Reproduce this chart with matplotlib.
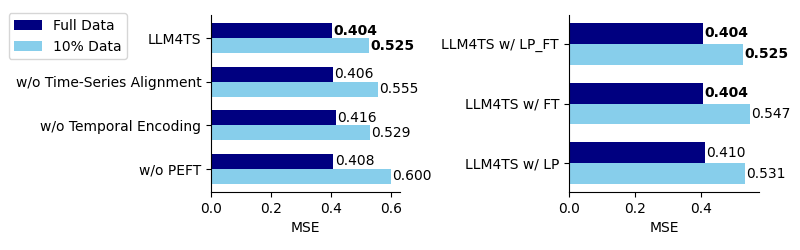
import matplotlib
matplotlib.use("Agg")
import matplotlib.pyplot as plt
import numpy as np

left_cats = ["LLM4TS", "w/o Time-Series Alignment", "w/o Temporal Encoding", "w/o PEFT"]
left_full = [0.404, 0.406, 0.416, 0.408]
left_ten = [0.525, 0.555, 0.529, 0.600]
left_full_bold = [True, False, False, False]
left_ten_bold = [True, False, False, False]

right_cats = ["LLM4TS w/ LP_FT", "LLM4TS w/ FT", "LLM4TS w/ LP"]
right_full = [0.404, 0.404, 0.410]
right_ten = [0.525, 0.547, 0.531]
right_full_bold = [True, True, False]
right_ten_bold = [True, False, False]

c_full = "#000080"
c_ten = "#87CEEB"
h = 0.35

fig = plt.figure(figsize=(8, 2.5), dpi=100)
ax1 = fig.add_axes([0.264, 0.232, 0.236, 0.708])
ax2 = fig.add_axes([0.711, 0.232, 0.238, 0.708])

def draw(ax, cats, full, ten, fb, tb):
    y = np.arange(len(cats))
    b1 = ax.barh(y - h / 2, full, height=h, color=c_full, label="Full Data")
    b2 = ax.barh(y + h / 2, ten, height=h, color=c_ten, label="10% Data")
    for bars, vals, bolds in ((b1, full, fb), (b2, ten, tb)):
        texts = ax.bar_label(bars, labels=[f"{v:.3f}" for v in vals], padding=1, fontsize=10)
        for t, b in zip(texts, bolds):
            if b:
                t.set_fontweight("bold")
    ax.set_yticks(y)
    ax.set_yticklabels(cats, fontsize=10)
    ax.invert_yaxis()
    ax.set_xlabel("MSE", fontsize=10)
    ax.spines["top"].set_visible(False)
    ax.spines["right"].set_visible(False)
    ax.tick_params(labelsize=10)
    return b1, b2

b1, b2 = draw(ax1, left_cats, left_full, left_ten, left_full_bold, left_ten_bold)
draw(ax2, right_cats, right_full, right_ten, right_full_bold, right_ten_bold)
ax1.set_xticks([0.0, 0.2, 0.4, 0.6])
ax2.set_xticks([0.0, 0.2, 0.4])

fig.legend(handles=[b1, b2], loc="upper left", bbox_to_anchor=(0.002, 0.975), fontsize=10)

fig.savefig("out.png", dpi=100)
